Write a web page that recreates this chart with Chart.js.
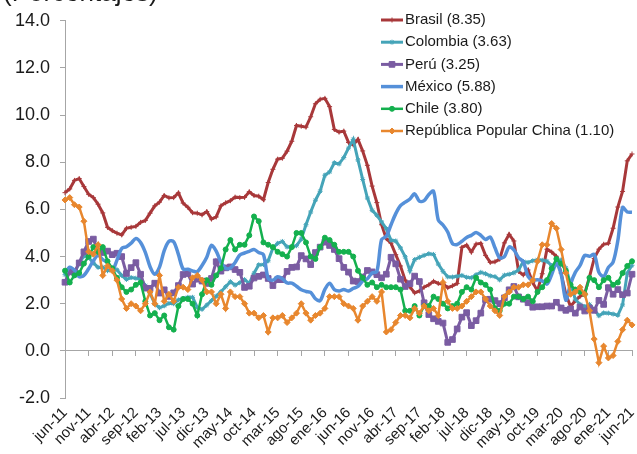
<!DOCTYPE html>
<html>
<head>
<meta charset="utf-8">
<script src="https://cdn.jsdelivr.net/npm/chart.js@4.4.1/dist/chart.umd.min.js"></script>
<style>
  html, body { margin: 0; padding: 0; background: #fff; }
  #wrap { position: relative; width: 637px; height: 454px; }
</style>
</head>
<body>
<div id="wrap"><canvas id="inflacion"></canvas></div>
<script>
// meses jun-11 ... jun-21
const meses = [
  'jun-11', 'jul-11', 'ago-11', 'sep-11', 'oct-11', 'nov-11', 'dic-11',
  'ene-12', 'feb-12', 'mar-12', 'abr-12', 'may-12', 'jun-12', 'jul-12', 'ago-12', 'sep-12', 'oct-12', 'nov-12', 'dic-12',
  'ene-13', 'feb-13', 'mar-13', 'abr-13', 'may-13', 'jun-13', 'jul-13', 'ago-13', 'sep-13', 'oct-13', 'nov-13', 'dic-13',
  'ene-14', 'feb-14', 'mar-14', 'abr-14', 'may-14', 'jun-14', 'jul-14', 'ago-14', 'sep-14', 'oct-14', 'nov-14', 'dic-14',
  'ene-15', 'feb-15', 'mar-15', 'abr-15', 'may-15', 'jun-15', 'jul-15', 'ago-15', 'sep-15', 'oct-15', 'nov-15', 'dic-15',
  'ene-16', 'feb-16', 'mar-16', 'abr-16', 'may-16', 'jun-16', 'jul-16', 'ago-16', 'sep-16', 'oct-16', 'nov-16', 'dic-16',
  'ene-17', 'feb-17', 'mar-17', 'abr-17', 'may-17', 'jun-17', 'jul-17', 'ago-17', 'sep-17', 'oct-17', 'nov-17', 'dic-17',
  'ene-18', 'feb-18', 'mar-18', 'abr-18', 'may-18', 'jun-18', 'jul-18', 'ago-18', 'sep-18', 'oct-18', 'nov-18', 'dic-18',
  'ene-19', 'feb-19', 'mar-19', 'abr-19', 'may-19', 'jun-19', 'jul-19', 'ago-19', 'sep-19', 'oct-19', 'nov-19', 'dic-19',
  'ene-20', 'feb-20', 'mar-20', 'abr-20', 'may-20', 'jun-20', 'jul-20', 'ago-20', 'sep-20', 'oct-20', 'nov-20', 'dic-20',
  'ene-21', 'feb-21', 'mar-21', 'abr-21', 'may-21', 'jun-21'
];

const brasil = [
  6.71, 6.87, 7.23, 7.31, 6.97, 6.64, 6.50,
  6.22, 5.85, 5.24, 5.10, 4.99, 4.92, 5.20, 5.24, 5.28, 5.45, 5.53, 5.84,
  6.15, 6.31, 6.59, 6.49, 6.50, 6.70, 6.27, 6.09, 5.86, 5.84, 5.77, 5.91,
  5.59, 5.68, 6.15, 6.28, 6.37, 6.52, 6.50, 6.51, 6.75, 6.59, 6.56, 6.41,
  7.14, 7.70, 8.13, 8.17, 8.47, 8.89, 9.56, 9.53, 9.49, 9.93, 10.48, 10.67,
  10.71, 10.36, 9.39, 9.28, 9.32, 8.84, 8.74, 8.97, 8.48, 7.87, 6.99, 6.29,
  5.35, 4.76, 4.57, 4.08, 3.60, 3.00, 2.71, 2.46, 2.54, 2.70, 2.80, 2.95,
  2.86, 2.84, 2.68, 2.76, 2.86, 4.39, 4.48, 4.19, 4.53, 4.56, 4.05, 3.75,
  3.78, 3.89, 4.58, 4.94, 4.66, 3.37, 3.22, 3.43, 2.89, 2.54, 3.27, 4.31,
  4.19, 4.01, 3.30, 2.40, 1.88, 2.13, 2.31, 2.44, 3.14, 3.92, 4.31, 4.52,
  4.56, 5.20, 6.10, 6.76, 8.06, 8.35
];

const colombia = [
  3.23, 3.42, 3.27, 3.73, 4.02, 3.96, 3.73,
  3.54, 3.55, 3.40, 3.43, 3.44, 3.20, 3.03, 3.11, 3.08, 3.06, 2.77, 2.44,
  2.00, 1.83, 1.91, 2.02, 2.00, 2.16, 2.22, 2.27, 2.27, 1.84, 1.76, 1.94,
  2.13, 2.32, 2.51, 2.72, 2.93, 2.79, 2.89, 3.02, 2.86, 3.29, 3.65, 3.66,
  3.82, 4.36, 4.56, 4.64, 4.41, 4.42, 4.46, 4.74, 5.35, 5.89, 6.39, 6.77,
  7.45, 7.59, 7.98, 7.93, 8.20, 8.60, 8.97, 8.10, 7.27, 6.48, 5.96, 5.75,
  5.47, 5.18, 4.69, 4.66, 4.37, 3.99, 3.40, 3.87, 3.97, 4.05, 4.12, 4.09,
  3.68, 3.37, 3.14, 3.13, 3.16, 3.20, 3.12, 3.10, 3.23, 3.33, 3.27, 3.18,
  3.15, 3.01, 3.21, 3.25, 3.31, 3.43, 3.79, 3.75, 3.82, 3.86, 3.84, 3.80,
  3.62, 3.72, 3.86, 3.51, 2.85, 2.19, 1.97, 1.88, 1.97, 1.75, 1.49, 1.61,
  1.60, 1.56, 1.51, 1.95, 3.30, 3.63
];

const peru = [
  2.91, 3.35, 3.35, 3.73, 4.20, 4.64, 4.74,
  4.23, 4.17, 4.23, 4.08, 4.14, 4.00, 3.28, 3.53, 3.74, 3.25, 2.66, 2.65,
  2.87, 2.45, 2.59, 2.31, 2.46, 2.77, 3.24, 3.28, 2.83, 3.04, 2.96, 2.86,
  3.07, 3.78, 3.38, 3.52, 3.56, 3.45, 3.33, 2.69, 2.74, 3.09, 3.16, 3.22,
  3.07, 2.77, 3.02, 3.02, 3.37, 3.54, 3.56, 4.04, 3.90, 3.66, 4.17, 4.40,
  4.61, 4.47, 4.30, 3.91, 3.54, 3.34, 2.96, 2.94, 3.13, 3.41, 3.35, 3.23,
  3.10, 3.25, 3.97, 3.69, 3.04, 2.73, 2.85, 3.17, 2.94, 2.04, 1.54, 1.36,
  1.25, 1.18, 0.36, 0.48, 0.93, 1.43, 1.62, 1.07, 1.28, 1.60, 2.17, 2.19,
  2.13, 2.00, 2.25, 2.59, 2.73, 2.29, 2.19, 2.04, 1.85, 1.87, 1.87, 1.90,
  1.90, 2.06, 1.82, 1.72, 1.78, 1.60, 1.86, 1.69, 1.82, 1.72, 2.14, 1.97,
  2.68, 2.40, 2.60, 2.38, 2.45, 3.25
];

const mexico = [
  3.28, 3.55, 3.42, 3.14, 3.20, 3.48, 3.82,
  4.05, 3.87, 3.73, 3.41, 3.85, 4.34, 4.42, 4.57, 4.77, 4.60, 4.18, 3.57,
  3.25, 3.55, 4.25, 4.65, 4.63, 4.09, 3.47, 3.46, 3.39, 3.36, 3.62, 3.97,
  4.48, 4.23, 3.76, 3.50, 3.51, 3.75, 4.07, 4.15, 4.22, 4.30, 4.17, 4.08,
  3.07, 3.00, 3.14, 3.06, 2.88, 2.87, 2.74, 2.59, 2.52, 2.48, 2.21, 2.13,
  2.61, 2.87, 2.60, 2.54, 2.60, 2.54, 2.65, 2.73, 2.97, 3.06, 3.31, 3.36,
  4.72, 4.86, 5.35, 5.82, 6.16, 6.31, 6.44, 6.66, 6.35, 6.37, 6.63, 6.77,
  5.55, 5.34, 5.04, 4.55, 4.51, 4.65, 4.81, 4.90, 5.02, 4.90, 4.72, 4.83,
  4.37, 3.94, 4.00, 4.41, 4.28, 3.95, 3.78, 3.16, 3.00, 3.02, 2.97, 2.83,
  3.24, 3.70, 3.25, 2.15, 2.84, 3.33, 3.62, 4.05, 4.01, 4.09, 3.33, 3.15,
  3.54, 3.76, 4.67, 6.08, 5.89, 5.88
];

const chile = [
  3.4, 2.9, 3.2, 3.3, 3.7, 4.0, 4.4,
  4.2, 4.4, 3.8, 3.5, 3.1, 2.7, 2.5, 2.6, 2.8, 2.9, 2.1, 1.5,
  1.6, 1.3, 1.5, 1.0, 0.9, 1.9, 2.2, 2.2, 2.0, 1.5, 2.4, 3.0,
  2.8, 3.2, 3.5, 4.3, 4.7, 4.3, 4.5, 4.5, 4.9, 5.7, 5.5, 4.6,
  4.5, 4.4, 4.2, 4.1, 4.0, 4.4, 5.0, 5.0, 4.6, 4.0, 3.9, 4.4,
  4.8, 4.7, 4.5, 4.2, 4.2, 4.2, 4.0, 3.4, 3.1, 2.8, 2.9, 2.7,
  2.8, 2.7, 2.7, 2.7, 2.6, 1.7, 1.7, 1.9, 1.5, 1.9, 1.9, 2.3,
  2.2, 2.0, 1.8, 1.9, 2.0, 2.5, 2.7, 2.6, 3.1, 2.9, 2.8, 2.6,
  1.8, 1.7, 2.0, 2.0, 2.3, 2.3, 2.2, 2.3, 2.1, 2.5, 2.7, 3.0,
  3.5, 3.9, 3.7, 3.4, 2.8, 2.6, 2.5, 2.4, 3.1, 3.0, 2.7, 3.0,
  3.1, 2.8, 2.9, 3.3, 3.6, 3.8
];

const china = [
  6.4, 6.5, 6.2, 6.1, 5.5, 4.2, 4.1,
  4.5, 3.2, 3.6, 3.4, 3.0, 2.2, 1.8, 2.0, 1.9, 1.7, 2.0, 2.5,
  2.0, 3.2, 2.1, 2.4, 2.1, 2.7, 2.7, 2.6, 3.1, 3.2, 3.0, 2.5,
  2.5, 2.0, 2.4, 1.8, 2.5, 2.3, 2.3, 2.0, 1.6, 1.6, 1.4, 1.5,
  0.8, 1.4, 1.4, 1.5, 1.2, 1.4, 1.6, 2.0, 1.6, 1.3, 1.5, 1.6,
  1.8, 2.3, 2.3, 2.3, 2.0, 1.9, 1.8, 1.3, 1.9, 2.1, 2.3, 2.1,
  2.5, 0.8, 0.9, 1.2, 1.5, 1.5, 1.4, 1.8, 1.6, 1.9, 1.7, 1.8,
  1.5, 2.9, 2.1, 1.8, 1.8, 1.9, 2.1, 2.3, 2.5, 2.5, 2.2, 1.9,
  1.7, 1.5, 2.3, 2.5, 2.7, 2.7, 2.8, 2.8, 3.0, 3.8, 4.5, 4.5,
  5.4, 5.2, 4.3, 3.3, 2.4, 2.5, 2.7, 2.4, 1.7, 0.5, -0.5, 0.2,
  -0.3, -0.2, 0.4, 0.9, 1.3, 1.1
];

const nombres = ['Brasil (8.35)', 'Colombia (3.63)', 'Perú (3.25)', 'México (5.88)', 'Chile (3.80)', 'República Popular China (1.10)'];
const yTicks = [-2, 0, 2, 4, 6, 8, 10, 12, 14];

const FUENTE = 'Arial, "Liberation Sans", sans-serif';
const GRIS = '#a6a6a6';

function serie(label, data, color, estilo, radio, ancho, orden, extra) {
  return Object.assign({
    label: label,
    data: data,
    borderColor: color,
    backgroundColor: color,
    pointBackgroundColor: color,
    pointBorderColor: color,
    borderWidth: ancho,
    pointStyle: estilo,
    pointRadius: radio,
    pointBorderWidth: 1,
    pointHoverRadius: radio,
    tension: 0,
    fill: false,
    order: orden
  }, extra || {});
}

// leyenda dentro del area de trazado, arriba a la derecha
const leyendaInterna = {
  id: 'leyendaInterna',
  afterDatasetsDraw(chart) {
    const ctx = chart.ctx;
    ctx.save();
    chart.data.datasets.forEach((ds, i) => {
      const y = 20 + i * 22.2;
      ctx.strokeStyle = ds.borderColor;
      ctx.lineWidth = ds.borderWidth;
      ctx.beginPath();
      ctx.moveTo(381, y);
      ctx.lineTo(403, y);
      ctx.stroke();
      if (ds.pointRadius > 0 && Chart.helpers && Chart.helpers.drawPoint) {
        ctx.fillStyle = ds.pointBackgroundColor;
        ctx.strokeStyle = ds.pointBorderColor;
        ctx.lineWidth = ds.pointBorderWidth;
        Chart.helpers.drawPoint(ctx, { pointStyle: ds.pointStyle, radius: ds.pointRadius, borderWidth: ds.pointBorderWidth, rotation: 0 }, 392, y);
      }
      ctx.fillStyle = '#1a1a1a';
      ctx.font = '15px ' + FUENTE;
      ctx.textBaseline = 'middle';
      ctx.textAlign = 'left';
      ctx.fillText(ds.label, 405, y);
    });
    ctx.restore();
  }
};

// fondo blanco y titulo (cortado en el borde superior)
const fondo = {
  id: 'fondo',
  beforeDraw(chart) {
    const ctx = chart.ctx;
    ctx.save();
    ctx.fillStyle = '#fff';
    ctx.fillRect(0, 0, chart.width, chart.height);
    ctx.fillStyle = '#1a1a1a';
    ctx.font = '26px ' + FUENTE;
    ctx.textBaseline = 'alphabetic';
    ctx.fillText('(Porcentajes)', 3, 1);
    ctx.restore();
  }
};

new Chart(document.getElementById('inflacion'), {
  type: 'line',
  data: {
    labels: meses,
    datasets: [
      serie(nombres[0], brasil, '#a8383a', 'cross', 2.5, 3, 6),
      serie(nombres[1], colombia, '#45a4b8', 'star', 2.5, 3, 5),
      serie(nombres[2], peru, '#7a5ca2', 'rect', 4, 3, 4),
      serie(nombres[3], mexico, '#5590d9', 'circle', 0, 3.5, 3, { tension: 0.3 }),
      serie(nombres[4], chile, '#14b04e', 'circle', 2.5, 2.5, 2),
      serie(nombres[5], china, '#e8872e', 'rectRot', 3, 2.5, 1)
    ]
  },
  options: {
    responsive: true,
    maintainAspectRatio: false,
    animation: false,
    layout: { padding: { top: 16, right: 5, bottom: 0, left: 0 } },
    plugins: {
      legend: { display: false },
      tooltip: { enabled: false }
    },
    scales: {
      x: {
        type: 'category',
        offset: false,
        grid: { display: false, drawTicks: false },
        border: { display: false },
        ticks: {
          autoSkip: false,
          maxRotation: 45,
          minRotation: 45,
          padding: 6,
          color: '#1a1a1a',
          font: { family: FUENTE, size: 15 },
          callback: function (v, i) { return i % 5 === 0 ? this.getLabelForValue(v) : ''; }
        },
        afterFit: s => { s.height = 56; s.paddingRight = 0; }
      },
      x2: {
        type: 'category',
        position: { y: 0 },
        offset: false,
        grid: {
          drawOnChartArea: false,
          tickLength: 5,
          tickColor: c => (c.index % 5 === 0 ? GRIS : 'rgba(0,0,0,0)')
        },
        border: { color: GRIS, width: 1 },
        ticks: { display: false, autoSkip: false }
      },
      y: {
        min: yTicks[0],
        max: yTicks[yTicks.length - 1],
        afterBuildTicks: s => { s.ticks = yTicks.map(v => ({ value: v })); },
        grid: { drawOnChartArea: false, tickLength: 5, color: GRIS },
        border: { color: GRIS, width: 1 },
        ticks: {
          padding: 10,
          color: '#1a1a1a',
          font: { family: FUENTE, size: 18 },
          callback: v => v.toFixed(1)
        },
        afterFit: s => { s.width = 65; }
      }
    }
  },
  plugins: [fondo, leyendaInterna]
});
</script>
</body>
</html>
